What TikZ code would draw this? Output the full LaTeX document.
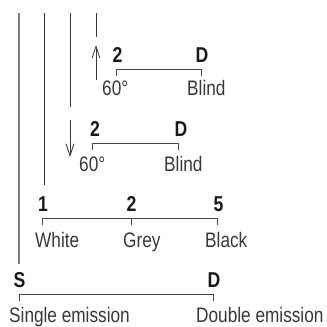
\documentclass[tikz,border=0pt]{standalone}
\usepackage{fontspec}
\setmainfont[FakeStretch=0.82]{Liberation Sans}
\usetikzlibrary{arrows.meta}

\begin{document}
\begin{tikzpicture}[x=1pt,y=-1pt,
  num/.style={font=\bfseries\fontsize{21.5}{21.5}\selectfont,text=black!90,inner sep=0pt},
  lbl/.style={font=\fontsize{21}{21}\selectfont,text=black!78,inner sep=0pt,anchor=base west},
  brk/.style={draw=black!72,line width=0.9pt},
  rail/.style={draw=black!78,line width=1pt},
  railarr/.style={rail,-{Straight Barb[length=12pt,width=8pt,line width=0.8pt]}}]
\useasboundingbox (0,0) rectangle (327,327);
% labels, top block first
\node[num] (a2) at (117.5,55) {2};
\node[num] (ad) at (202,55) {D};
\node[lbl] (aang) at (102,95) {60°};
\node[lbl] (ablind) at (187,95) {Blind};
\node[num] (b2) at (95,129) {2};
\node[num] (bd) at (181,129) {D};
\node[lbl] (bang) at (79,171) {60°};
\node[lbl] (bblind) at (164,171) {Blind};
\node[num] (c1) at (43,204) {1};
\node[num] (c2) at (131.5,204) {2};
\node[num] (c5) at (218.5,204) {5};
\foreach \n/\x/\t in {white/35/White,grey/123/Grey,black/205/Black}
   \node[lbl] (\n) at (\x,247) {\t};
\node[num] (s) at (19.5,280) {S};
\node[num] (sd) at (214,280) {D};
\node[lbl] (single) at (9,322) {Single emission};
\node[lbl] (double) at (196,322) {Double emission};
% brackets
\foreach \l/\r/\y in {116/201/69,92/178/143,42/217/218,19/213/294}
   \draw[brk] (\l,\y+6.5) -- (\l,\y) -- (\r,\y) -- (\r,\y+6.5);
\draw[brk] (131.5,218) -- (131.5,224.5);
% rails
\coordinate (topS) at (19,13);
\coordinate (top1) at (44,13);
\coordinate (top3) at (70,13);
\coordinate (end3) at (70,107);
\coordinate (top4) at (96,13);
\coordinate (end4) at (96,37);
\coordinate (dn1) at (70,120);
\coordinate (dn2) at (70,157);
\coordinate (up1) at (96,80);
\coordinate (up2) at (96,45);
\draw[rail,draw=black!50,line width=1.4pt,shorten >=8pt] (topS) -- (topS |- s.north);
\draw[rail,shorten >=11pt] (top1) -- (top1 |- c1.north);
\draw[rail] (top3) -- (end3);
\draw[rail] (top4) -- (end4);
\draw[railarr] (dn1) -- (dn2);
\draw[railarr] (up1) -- (up2);
\end{tikzpicture}
\end{document}
